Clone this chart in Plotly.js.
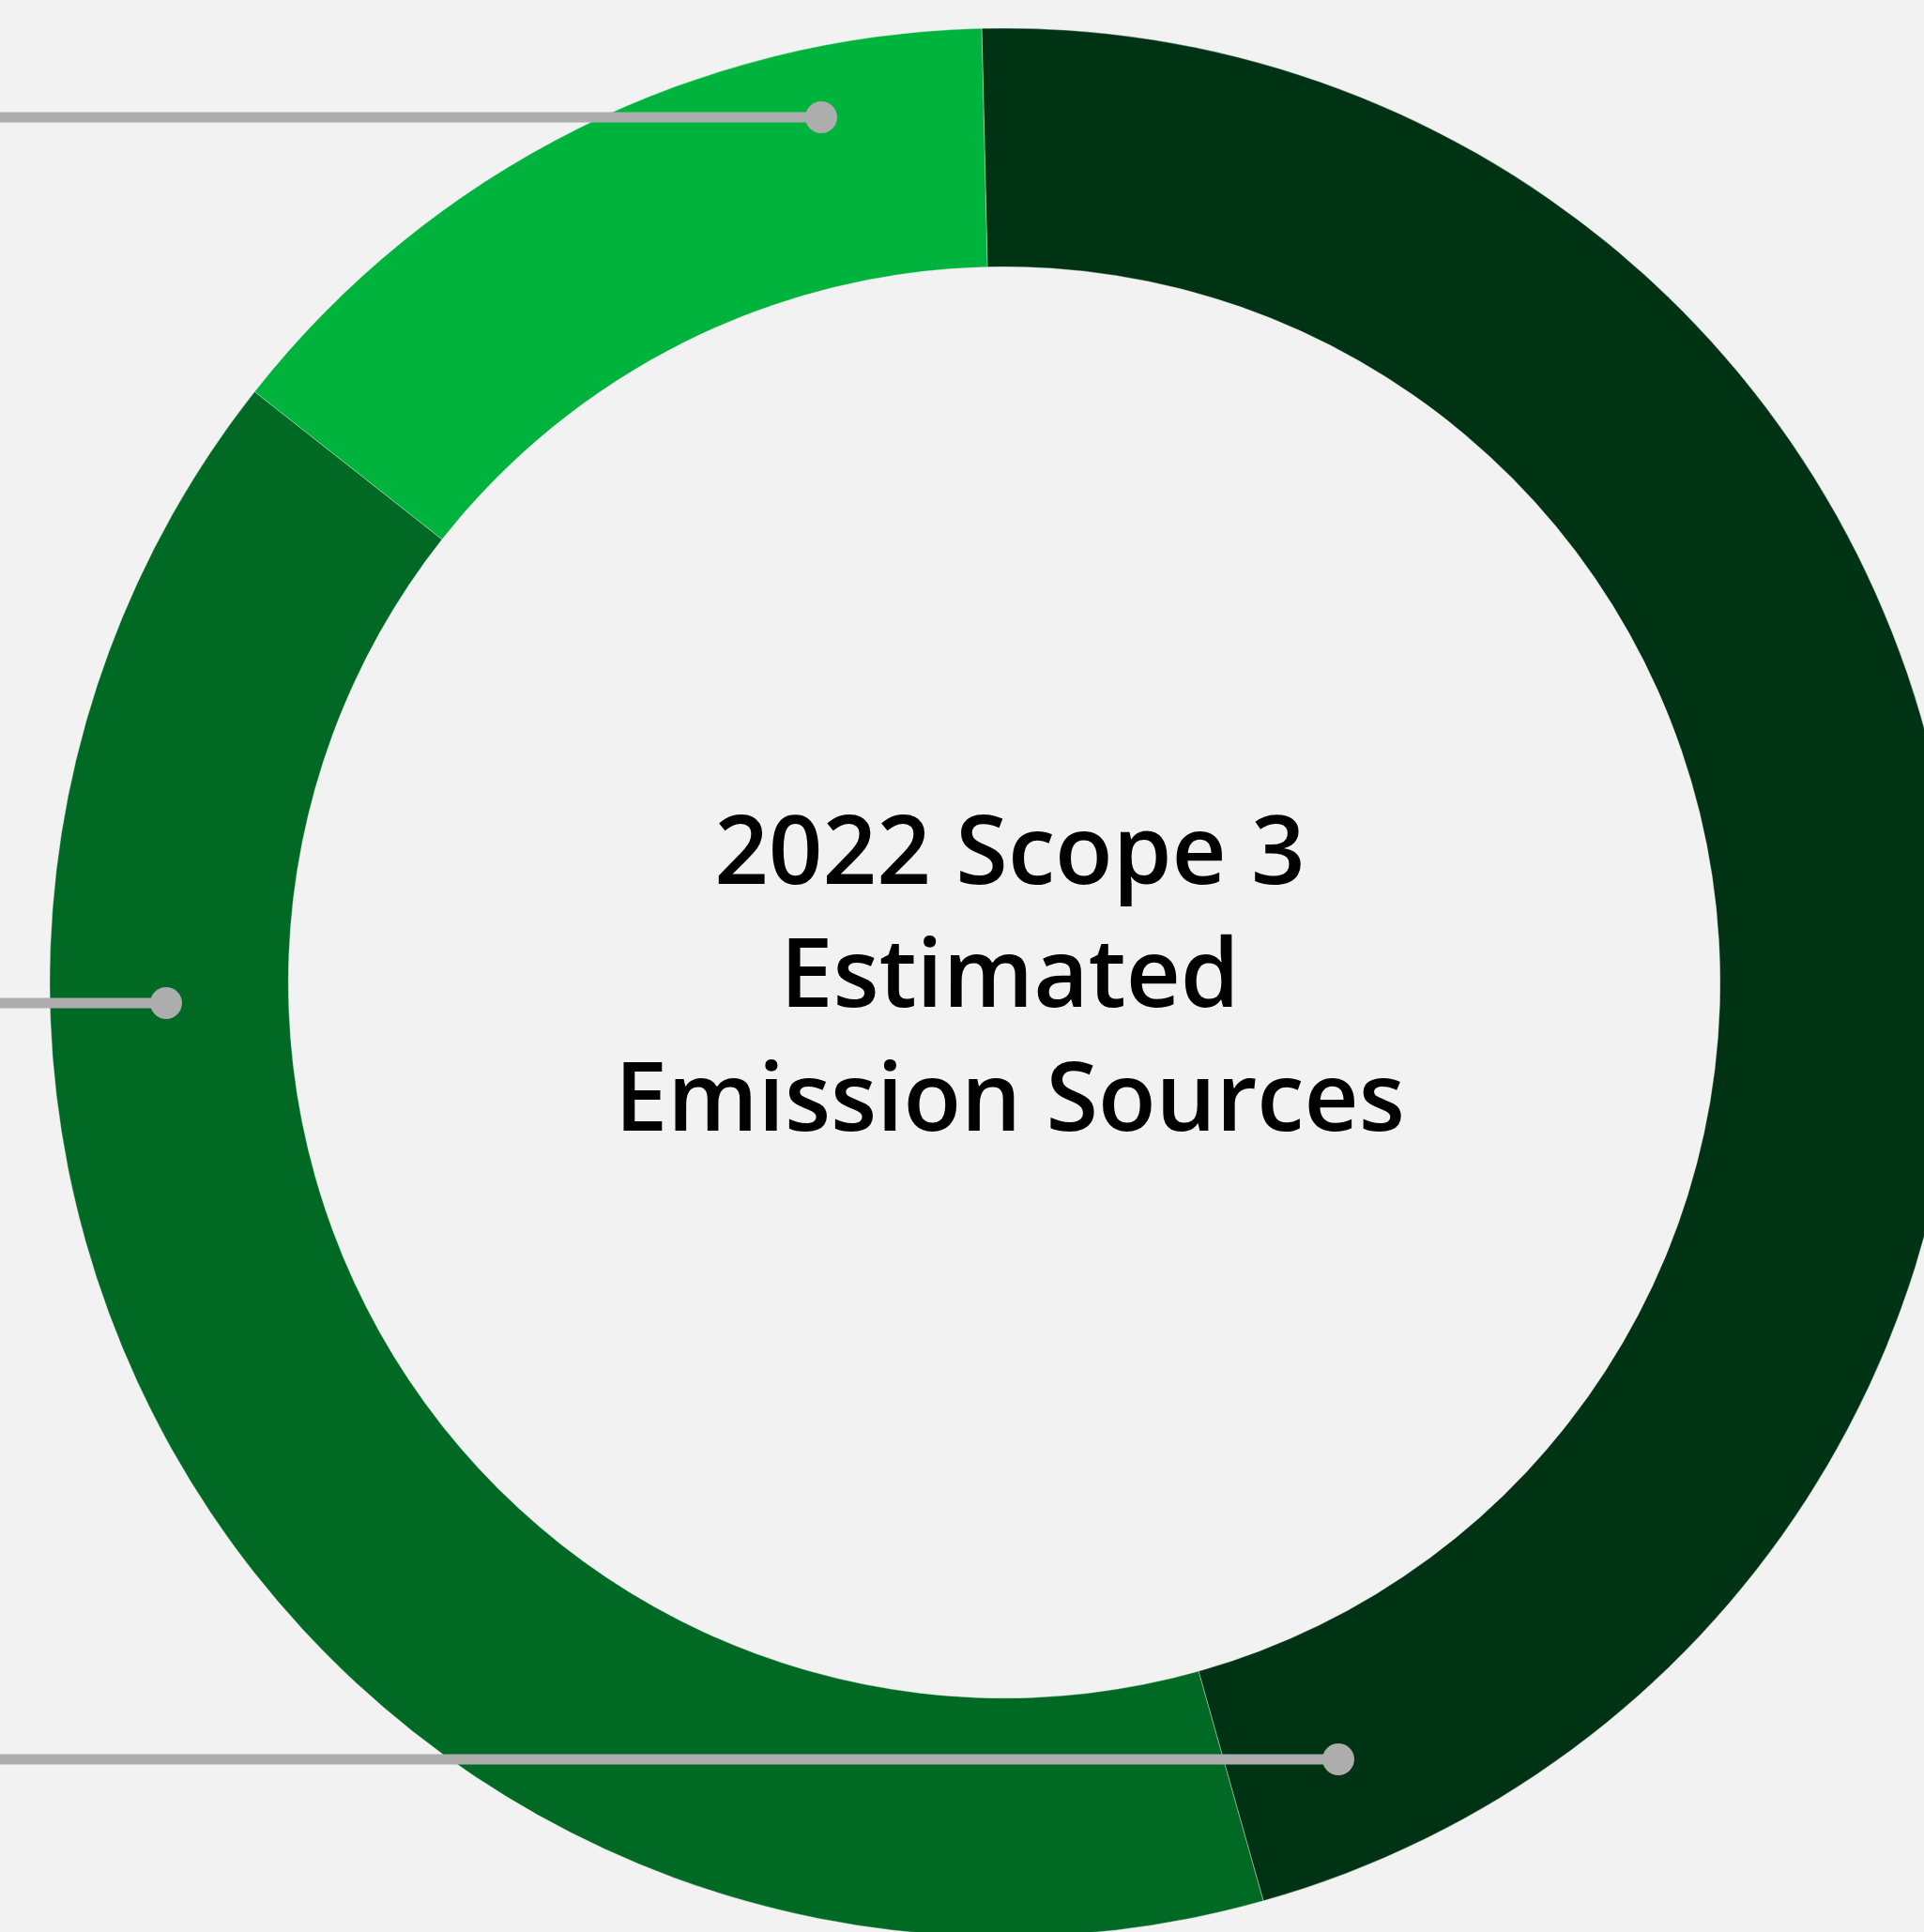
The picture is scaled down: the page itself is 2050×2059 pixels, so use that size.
<!DOCTYPE html>
<html>
<head>
<meta charset="utf-8">
<script src="https://cdn.plot.ly/plotly-3.0.1.min.js"></script>
<style>
  html, body { margin: 0; padding: 0; width: 2050px; height: 2059px; overflow: hidden; background: #f2f2f2; }
  #chart { position: absolute; left: 0; top: 0; }
</style>
</head>
<body>
<div id="chart"></div>
<script>
// Data (shares of 2022 Scope 3 estimated emissions, %)
const sliceLabels = ["Source A", "Source B", "Source C"];
const sliceValues = [46, 40, 14];
const sliceColors = ["#003314", "#006a25", "#00b33c"];
const centerTitle = ["2022 Scope 3", "Estimated", "Emission Sources"];

// Canvas geometry (the donut is larger than the visible page and gets cropped)
const W = 2140, H = 2094;
const cx = 1070, cy = 1047, R = 1017;
const px = x => x / W;
const py = y => 1 - y / H;

// Callout leaders (pixel positions on the page)
const callouts = [
  { x: 875, y: 125 },
  { x: 177, y: 1069 },
  { x: 1426, y: 1875 }
];
const grey = "#adadad";

const shapes = [];
callouts.forEach(c => {
  shapes.push({
    type: "line", xref: "paper", yref: "paper", layer: "above",
    x0: -0.01, x1: px(c.x), y0: py(c.y), y1: py(c.y),
    line: { color: grey, width: 11 }
  });
  shapes.push({
    type: "circle", xref: "paper", yref: "paper", layer: "above",
    xsizemode: "pixel", ysizemode: "pixel",
    xanchor: px(c.x), yanchor: py(c.y),
    x0: -17, x1: 17, y0: -17, y1: 17,
    fillcolor: grey, line: { width: 0 }
  });
});

const trace = {
  type: "pie",
  labels: sliceLabels,
  values: sliceValues,
  hole: 0.75,
  sort: false,
  direction: "clockwise",
  rotation: -1.35,
  textinfo: "none",
  hoverinfo: "label+percent",
  marker: { colors: sliceColors, line: { color: "rgba(242,242,242,0.6)", width: 0.6 } },
  domain: { x: [px(cx - R), px(cx + R)], y: [py(cy + R), py(cy - R)] },
  showlegend: false
};

const layout = {
  width: W, height: H,
  margin: { l: 0, r: 0, t: 0, b: 0, pad: 0 },
  paper_bgcolor: "#f2f2f2",
  plot_bgcolor: "#f2f2f2",
  showlegend: false,
  shapes: shapes,
  annotations: [{
    xref: "paper", yref: "paper",
    x: px(1076), y: py(1034),
    xanchor: "center", yanchor: "middle",
    text: centerTitle.join("<br>"),
    showarrow: false, align: "center",
    font: { family: "Open Sans, sans-serif", size: 101, color: "#000000", weight: 600 }
  }]
};

Plotly.newPlot("chart", [trace], layout, { displayModeBar: false, staticPlot: true });
</script>
</body>
</html>
